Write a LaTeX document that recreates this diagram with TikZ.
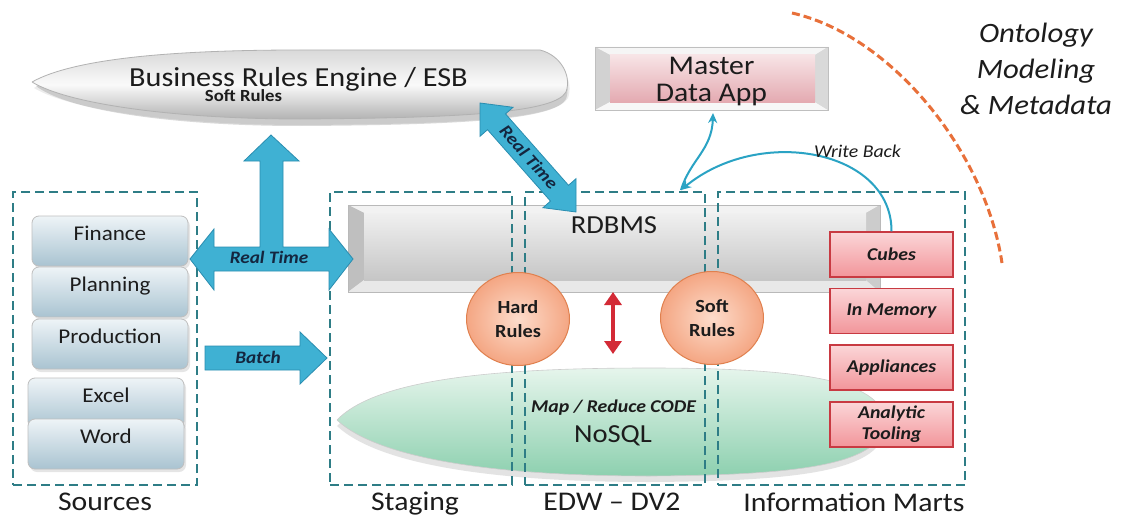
\documentclass[tikz,border=0pt]{standalone}
\usepackage{fontspec}
\setmainfont{Carlito}[FakeStretch=1.1]
\usetikzlibrary{shapes.geometric,arrows.meta,calc,shadows}
\definecolor{dteal}{HTML}{2E7D86}
\definecolor{abl}{HTML}{3FB1D3}
\definecolor{abld}{HTML}{2A8DB0}
\definecolor{navy}{HTML}{14263F}
\definecolor{orng}{HTML}{E8703A}
\definecolor{martfill}{HTML}{F2959A}
\definecolor{martlite}{HTML}{FBD6D8}
\definecolor{martdraw}{HTML}{C83A42}
\definecolor{peach}{HTML}{F4A683}
\definecolor{peachlite}{HTML}{FDDCCB}
\definecolor{peachdraw}{HTML}{E0804E}
\definecolor{srcdark}{HTML}{A9C3D1}
\definecolor{srclite}{HTML}{EEF4F7}
\definecolor{nosqld}{HTML}{8DD0AF}
\definecolor{nosqll}{HTML}{E6F5EC}
\definecolor{pinkd}{HTML}{E4AAB1}
\definecolor{pinkl}{HTML}{F7E4E6}
\definecolor{wbl}{HTML}{2AA3C4}
\definecolor{redar}{HTML}{D32A36}
\definecolor{txt}{HTML}{1C1C1C}
\newcommand{\myfs}[2]{\fontsize{#1}{#2}\selectfont}
\begin{document}
\begin{tikzpicture}[x=1pt,y=-1pt,
  dbox/.style={draw=dteal, line width=2.4pt, dash pattern=on 9pt off 5pt, inner sep=0pt},
  grp/.style={font=\myfs{27}{30}, text=txt, anchor=base},
  srcbox/.style={rounded corners=7pt, top color=srclite, bottom color=srcdark, draw=gray!50,
     line width=0.8pt, minimum width=156pt, text height=21pt, text depth=23pt, inner ysep=3pt,
     font=\myfs{21}{24}, text=txt, drop shadow={opacity=0.2, shadow xshift=2pt, shadow yshift=-3pt}},
  mart/.style={rectangle, top color=martlite, bottom color=martfill, draw=martdraw, line width=1.2pt,
     minimum width=123pt, minimum height=45pt, inner sep=1pt, font=\myfs{18}{21}\bfseries\itshape, text=txt, align=center},
  rulec/.style={ellipse, inner color=peachlite, outer color=peach, draw=peachdraw, line width=1pt,
     minimum width=103pt, minimum height=93pt, inner sep=0pt, font=\myfs{18.5}{24}\bfseries, align=center, text=txt},
  bigarrow/.style={fill=abl, draw=abld, line width=0.8pt},
  atext/.style={font=\myfs{17.5}{20}\bfseries\itshape, text=navy},
  wb/.style={wbl, line width=2pt}
]
\useasboundingbox (0,0) rectangle (1122,519);
\fill[white] (0,0) rectangle (1122,519);

% ---------- Business Rules Engine lens ----------
\fill[gray!30] (36,86) .. controls (80,62) and (200,57) .. (300,57) -- (540,57)
  .. controls (560,62) and (572,82) .. (566,99)
  .. controls (555,119) and (470,125) .. (300,126)
  .. controls (180,126) and (70,112) .. (36,86);
\path[draw=gray!60, line width=0.8pt, top color=gray!30, bottom color=gray!60, middle color=gray!4,
      drop shadow={opacity=0.15, shadow xshift=2pt, shadow yshift=-6pt}]
  (32,82) .. controls (80,55) and (200,50) .. (300,50) -- (540,50)
  .. controls (560,55) and (572,75) .. (566,92)
  .. controls (555,112) and (470,118) .. (300,119)
  .. controls (180,119) and (70,105) .. (32,82);
\node[font=\myfs{27.5}{30}, text=txt, anchor=base] (breT) at (298.5,87) {Business Rules Engine / ESB};
\node[font=\myfs{17}{20}\bfseries, text=txt, anchor=base] (breS) at (243.5,102) {Soft Rules};

% ---------- Master Data App ----------
\fill[gray!25] (595,47) rectangle (828,110);
\fill[gray!8] (595,47) -- (828,47) -- (815,55) -- (610,55) -- cycle;
\fill[gray!35] (595,47) -- (610,55) -- (610,102) -- (595,110) -- cycle;
\fill[gray!6] (595,110) -- (610,102) -- (815,102) -- (828,110) -- cycle;
\fill[gray!30] (828,47) -- (815,55) -- (815,102) -- (828,110) -- cycle;
\shade[top color=pinkl, bottom color=pinkd] (610,55) rectangle (815,102);
\draw[gray!50, line width=0.6pt] (595,47) rectangle (828,110);
\node[font=\myfs{27}{27}, text=txt, align=center, minimum width=233pt, minimum height=63pt] (mda) at (711.5,81.5) {Master\\Data App};

% ---------- RDBMS bar ----------
\node[rectangle, minimum width=532pt, minimum height=87pt, fill=gray!30, inner sep=0pt] (rdbms) at (614,248.5) {};
\fill[gray!10] (348,205) -- (880,205) -- (866,213) -- (364,213) -- cycle;
\fill[gray!50] (348,205) -- (364,213) -- (364,280) -- (348,292) -- cycle;
\fill[gray!18] (348,292) -- (364,280) -- (866,280) -- (880,292) -- cycle;
\fill[gray!40] (880,205) -- (866,213) -- (866,280) -- (880,292) -- cycle;
\shade[top color=gray!12, bottom color=gray!45] (364,213) rectangle (866,280);
\draw[gray!55, line width=0.6pt] (rdbms.north west) rectangle (rdbms.south east);
\node[font=\myfs{26}{28}, text=txt, anchor=base] (rdbmsT) at (614,233) {RDBMS};

% ---------- NoSQL lens ----------
\fill[gray!22] (337,426) .. controls (380,381) and (520,374) .. (650,374)
  .. controls (800,374) and (880,386) .. (885,426)
  .. controls (885,471) and (800,481) .. (650,482)
  .. controls (500,482) and (380,466) .. (337,426);
\path[draw=gray!40, line width=0.6pt, top color=nosqll, bottom color=nosqld]
  (337,420) .. controls (380,375) and (520,368) .. (650,368)
  .. controls (800,368) and (880,380) .. (885,420)
  .. controls (885,465) and (800,475) .. (650,476)
  .. controls (500,476) and (380,460) .. (337,420);
\node[font=\myfs{18}{20}\bfseries\itshape, text=txt, anchor=base] (mrT) at (613.5,412) {Map / Reduce CODE};
\node[font=\myfs{26}{28}, text=txt, anchor=base] (nosqlT) at (613,442) {NoSQL};

% ---------- dashed groups ----------
\node[dbox, minimum width=184pt, minimum height=293pt] (srcG) at (105,338.5) {};
\node[dbox, minimum width=182pt, minimum height=293pt] (stgG) at (421,338.5) {};
\node[dbox, minimum width=180pt, minimum height=293pt] (edwG) at (615,338.5) {};
\node[dbox, minimum width=247pt, minimum height=293pt] (imG) at (841.5,338.5) {};
\node[grp] (srcL) at (105,510) {Sources};
\node[grp] (stgL) at (415,510) {Staging};
\node[grp] (edwL) at (612,510) {EDW -- DV2};
\node[grp] (imL) at (854,511) {Information Marts};

% ---------- sources ----------
\node[srcbox] (fin) at (110,241) {Finance};
\node[srcbox] (pla) at (110,292) {Planning};
\node[srcbox] (pro) at (110,344) {Production};
\node[srcbox] (exc) at (106,403) {Excel};
\node[srcbox] (wor) at (106,444) {Word};

% ---------- rules ----------
\node[rulec] (hard) at (518,319) {Hard\\Rules};
\node[rulec] (soft) at (712,318) {Soft\\Rules};
\coordinate (rtop) at (613,292);
\coordinate (rbot) at (613,354);
\draw[redar, line width=4pt, {Triangle[length=13pt,width=17pt]}-{Triangle[length=13pt,width=17pt]}] (rtop) -- (rbot);

% ---------- marts ----------
\node[mart] (cubes) at (891.5,254.5) {Cubes};
\node[mart] (inmem) at (891.5,311) {In Memory};
\node[mart] (appl) at (891.5,367.5) {Appliances};
\node[mart] (anal) at (891.5,424.5) {Analytic\\Tooling};

% ---------- big blue arrows ----------
\path[bigarrow] (190,259) -- (214,229) -- (214,247) -- (260,247) -- (260,161) -- (244,161)
  -- (271,135) -- (299,161) -- (283,161) -- (283,247) -- (329,247) -- (329,229) -- (353,259)
  -- (329,290) -- (329,271) -- (214,271) -- (214,290) -- cycle;
\node[atext, anchor=base] (rth) at (269,263) {Real Time};
\path[bigarrow] (205,346) -- (300,346) -- (300,332) -- (327,358) -- (300,384) -- (300,370) -- (205,370) -- cycle;
\node[atext, anchor=base] (bat) at (258,363) {Batch};
\path[bigarrow] (480,103) -- (513,107.3) -- (505.5,113.9) -- (568.5,185.3) -- (576,178.7) -- (576,212)
  -- (543,207.7) -- (550.5,201.1) -- (487.5,129.7) -- (480,136.3) -- cycle;
\node[atext, rotate=-48.6, inner sep=0pt] (rtd) at (529,157) {Real Time};

% ---------- write back ----------
\coordinate (wbj) at (681,190);
\coordinate (mdab) at (713,113);
\draw[wb, -{Stealth[length=10pt,width=9pt]}] (cubes.north) .. controls (892,150) and (760,125) .. (wbj);
\draw[wb, -{Stealth[length=10pt,width=9pt]}] (wbj) .. controls (690,160) and (712,150) .. (mdab);
\node[font=\myfs{18}{20}\itshape, text=txt, anchor=base] (wbT) at (857.5,157) {Write Back};

% ---------- ontology ----------
\draw[orng, line width=3pt, dash pattern=on 8pt off 4pt] (792,13) .. controls (890,35) and (985,150) .. (1002,263);
\node[font=\myfs{28}{36}\itshape, text=txt, align=center] (onto) at (1036,69) {Ontology\\Modeling\\\& Metadata};
\end{tikzpicture}
\end{document}
